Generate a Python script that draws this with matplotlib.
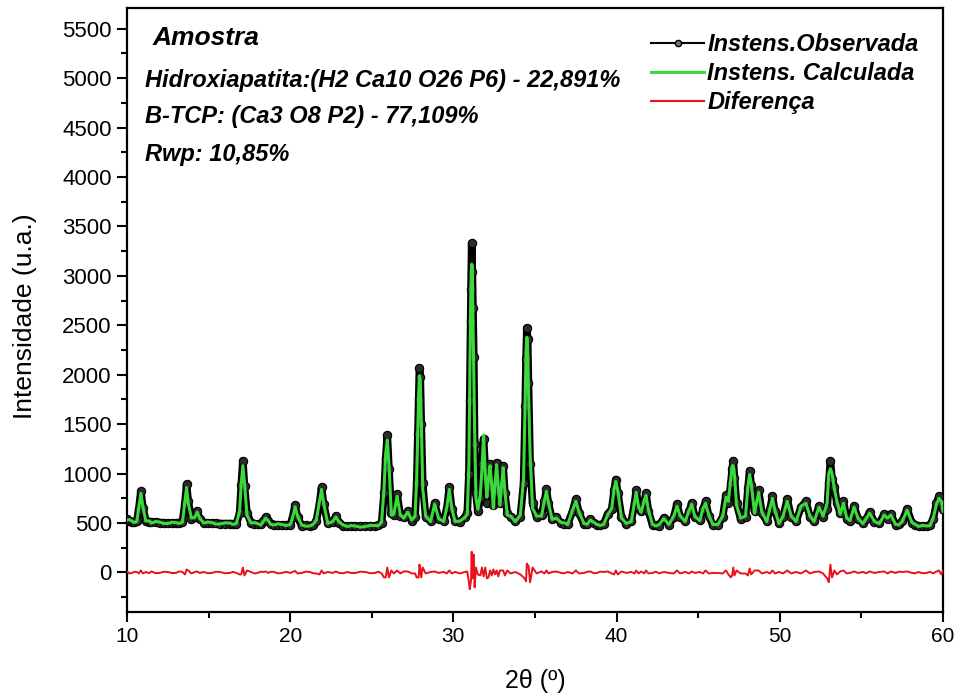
import matplotlib
matplotlib.use("Agg")
import matplotlib.pyplot as plt
import numpy as np
from matplotlib.lines import Line2D
from matplotlib.ticker import MultipleLocator

plt.rcParams['font.family'] = ['Liberation Sans', 'DejaVu Sans']

# 2theta grid (deg)
two_theta = [
    10.0, 10.15, 10.3, 10.45, 10.6, 10.72, 10.85, 10.98, 11.15, 11.35, 11.5, 11.75, 12.0, 12.25, 12.5, 12.75,
    13.0, 13.2, 13.4, 13.55, 13.65, 13.75, 13.95, 14.15, 14.3, 14.45, 14.7, 14.95, 15.2, 15.45, 15.7, 16.0, 16.3, 16.5,
    16.7, 16.9, 17.0, 17.1, 17.2, 17.35, 17.6, 17.8, 18.0, 18.2, 18.35, 18.5, 18.65, 18.8, 19.0, 19.25, 19.5, 19.75,
    20.0, 20.15, 20.3, 20.45, 20.7, 20.95, 21.2, 21.4, 21.6, 21.8, 21.92, 22.05, 22.3, 22.6, 22.8, 23.0, 23.25, 23.5, 23.75,
    24.0, 24.3, 24.6, 24.9, 25.2, 25.4, 25.6, 25.75, 25.85, 25.95, 26.05, 26.2, 26.35, 26.55, 26.75, 26.95, 27.2, 27.45,
    27.65, 27.75, 27.82, 27.87, 27.92, 27.97, 28.03, 28.12, 28.3, 28.6, 28.85, 29.1, 29.4, 29.6, 29.75, 29.9, 30.1, 30.4, 30.7,
    30.85, 30.95, 31.0, 31.05, 31.08, 31.12, 31.16, 31.2, 31.25, 31.3, 31.38, 31.5,
    31.65, 31.75, 31.85, 31.95, 32.05, 32.15, 32.25, 32.35, 32.45, 32.55, 32.65, 32.75, 32.85, 32.95, 33.05, 33.15, 33.3,
    33.5, 33.8, 34.1, 34.3, 34.4, 34.45, 34.5, 34.55, 34.6, 34.7, 34.85, 35.1, 35.4, 35.58, 35.7, 35.82, 36.05,
    36.3, 36.6, 36.8, 37.0, 37.3, 37.5, 37.7, 38.0, 38.2, 38.4, 38.6, 38.8, 39.0, 39.2, 39.45, 39.7, 39.85, 39.95, 40.08, 40.3, 40.6,
    40.9, 41.1, 41.2, 41.35, 41.5, 41.7, 41.8, 41.95, 42.2, 42.4, 42.6, 42.9, 43.2, 43.5, 43.7, 43.9, 44.2, 44.45, 44.6, 44.8, 45.1, 45.3, 45.45, 45.65, 45.9,
    46.2, 46.5, 46.7, 46.85, 47.0, 47.08, 47.15, 47.22, 47.35, 47.6, 47.9, 48.05, 48.15, 48.25, 48.45, 48.7, 48.9, 49.2, 49.4, 49.55, 49.7, 49.95,
    50.2, 50.45, 50.7, 51.0, 51.3, 51.6, 51.85, 52.1, 52.4, 52.65, 52.9, 53.0, 53.1, 53.2, 53.35, 53.5, 53.7, 53.9, 54.1,
    54.3, 54.55, 54.8, 55.1, 55.3, 55.5, 55.8, 56.1, 56.4, 56.6, 56.8, 57.1, 57.3, 57.5, 57.8, 58.1, 58.3, 58.5, 58.75, 59.0, 59.2, 59.4, 59.6, 59.75, 59.9, 60.0,
]

i_obs = [
    540, 525, 515, 512, 520, 640, 820, 650, 525, 515, 510, 508, 505, 503, 500, 502,
    500, 505, 515, 700, 890, 720, 540, 560, 620, 545, 505, 502, 500, 497, 495, 494, 495, 492,
    490, 600, 880, 1130, 870, 600, 505, 495, 490, 488, 520, 560, 520, 495, 485, 483, 480, 481,
    480, 560, 680, 560, 475, 476, 475, 478, 520, 700, 860, 690, 500, 510, 570, 505, 472, 470, 468,
    465, 466, 470, 468, 470, 480, 500, 800, 1150, 1390, 1050, 600, 580, 790, 570, 560, 620, 520,
    560, 900, 1400, 1750, 2070, 1980, 1500, 900, 560, 520, 700, 540, 520, 650, 860, 640, 520, 510, 560,
    600, 1000, 1730, 2540, 2870, 3330, 3040, 2680, 2180, 1300, 800, 620,
    750, 1100, 1350, 1050, 700, 900, 1100, 850, 680, 880, 1110, 820, 700, 900, 1080, 800, 600,
    560, 520, 560, 900, 1680, 2160, 2470, 2360, 1920, 1100, 700, 560, 580, 720, 840, 700, 540,
    560, 500, 494, 490, 620, 740, 600, 490, 495, 540, 500, 480, 485, 490, 590, 640, 830, 940, 800, 560, 490,
    520, 700, 830, 650, 620, 720, 800, 620, 480, 478, 475, 550, 480, 560, 690, 560, 520, 620, 700, 560, 530, 640, 720, 570, 480,
    480, 560, 780, 700, 900, 1050, 1130, 960, 700, 540, 560, 850, 1030, 880, 620, 830, 600, 520, 640, 770, 620, 500,
    560, 740, 560, 520, 660, 720, 560, 520, 670, 560, 640, 900, 1130, 950, 860, 700, 600, 720, 540,
    520, 670, 540, 500, 540, 610, 510, 500, 590, 540, 590, 480, 490, 520, 640, 500, 478, 470, 468, 465, 480, 540, 700, 770, 700, 640,
]

i_calc = [
    530, 535, 520, 505, 515, 650, 800, 660, 520, 522, 500, 515, 510, 496, 495, 508,
    505, 495, 510, 720, 860, 700, 550, 555, 610, 550, 500, 510, 505, 490, 490, 502, 500, 486,
    495, 620, 900, 1080, 900, 580, 500, 505, 495, 480, 515, 550, 525, 488, 480, 492, 485, 474,
    485, 555, 665, 570, 480, 468, 470, 486, 530, 720, 840, 700, 495, 515, 560, 510, 480, 465, 474,
    470, 458, 465, 476, 475, 472, 510, 850, 1200, 1340, 1100, 580, 590, 770, 580, 550, 610, 530,
    570, 950, 1450, 1800, 1990, 1940, 1550, 850, 570, 515, 690, 545, 515, 660, 840, 650, 515, 520, 555,
    590, 1100, 1900, 2650, 2950, 3120, 3100, 2550, 2000, 1450, 750, 640,
    780, 1050, 1390, 1000, 760, 950, 1080, 880, 650, 900, 1090, 860, 680, 880, 1060, 830, 580,
    570, 515, 580, 950, 1750, 2250, 2380, 2300, 1850, 1200, 650, 570, 570, 730, 820, 710, 535,
    550, 505, 502, 485, 630, 720, 610, 495, 488, 530, 508, 485, 476, 485, 580, 650, 850, 920, 820, 550, 495,
    515, 710, 810, 660, 610, 730, 780, 630, 485, 470, 484, 545, 485, 570, 670, 570, 515, 630, 690, 565, 525, 650, 700, 580, 485,
    485, 570, 760, 720, 950, 1080, 1080, 990, 680, 550, 570, 880, 990, 900, 600, 810, 610, 515, 650, 750, 630, 495,
    570, 720, 570, 515, 670, 700, 570, 515, 660, 570, 700, 1000, 1050, 1000, 840, 720, 590, 700, 550,
    525, 660, 545, 495, 548, 600, 515, 495, 580, 550, 580, 485, 482, 515, 630, 505, 486, 465, 476, 470, 474, 550, 690, 750, 720, 620,
]

x = np.array(two_theta)
obs = np.array(i_obs)
calc = np.array(i_calc)
diff = obs - calc

fig = plt.figure(figsize=(9.6, 6.98), dpi=100)
ax = fig.add_axes([127/960, 1-612/698, 816/960, 604/698])

# observed: dense symbols make a thick black band
ax.plot(x, obs, color='black', lw=5.5, solid_joinstyle='round', zorder=2)
ax.plot(x, obs, 'o', ms=6, mfc='#2b2b2b', mec='black', mew=0.8, zorder=3)
ax.plot(x, calc, color='#3cd93c', lw=2.2, zorder=4)
ax.plot(x, diff, color='#e8121a', lw=1.4, zorder=4)

ax.set_xlim(10, 60)
ax.set_ylim(-400, 5710)
ax.xaxis.set_major_locator(MultipleLocator(10))
ax.xaxis.set_minor_locator(MultipleLocator(5))
ax.yaxis.set_major_locator(MultipleLocator(500))
ax.yaxis.set_minor_locator(MultipleLocator(250))
ax.tick_params(which='major', direction='out', length=7, width=1.5, labelsize=15, pad=4)
ax.tick_params(axis='y', which='major', labelsize=16)
ax.tick_params(which='minor', direction='out', length=4, width=1.5)
for s in ax.spines.values():
    s.set_linewidth(1.6)

ax.set_xlabel('2θ (º)', fontsize=18)
ax.set_ylabel('Intensidade (u.a.)', fontsize=19)
ax.xaxis.set_label_coords(0.5, -0.095)
ax.yaxis.set_label_coords(-0.11, 0.49)

bi = dict(fontweight='bold', fontstyle='italic', ha='left', va='center')
fig.text(153/960, 1-38/698, 'Amostra', fontsize=19, **bi)
fig.text(145/960, 1-80/698, 'Hidroxiapatita:(H2 Ca10 O26 P6) - 22,891%', fontsize=17, **bi)
fig.text(145/960, 1-117/698, 'B-TCP: (Ca3 O8 P2) - 77,109%', fontsize=17, **bi)
fig.text(145/960, 1-155/698, 'Rwp: 10,85%', fontsize=17, **bi)

handles = [
    Line2D([], [], color='black', lw=1.5, marker='o', ms=4.5, mfc='#777777', mec='black'),
    Line2D([], [], color='#3cd93c', lw=2.2),
    Line2D([], [], color='#e8121a', lw=1.5),
]
labels = ['Instens.Observada', 'Instens. Calculada', 'Diferença']
fig.legend(handles, labels, loc='upper left', bbox_to_anchor=(651/960, 1-33/698),
           frameon=False, numpoints=1, handlelength=2.25, handletextpad=0.13,
           labelspacing=0.25, borderpad=0, borderaxespad=0,
           prop=dict(weight='bold', style='italic', size=17))

fig.savefig('out.png', dpi=100)
